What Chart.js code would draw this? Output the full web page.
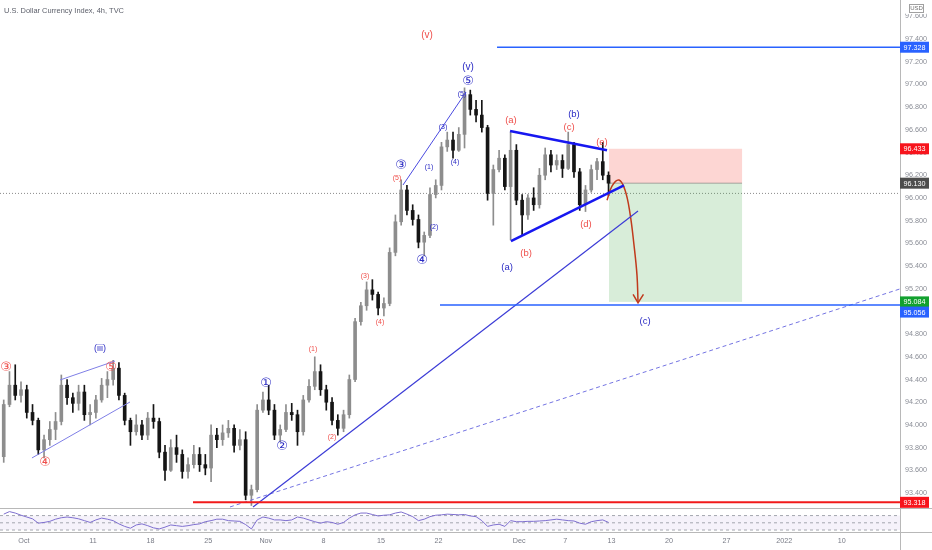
<!DOCTYPE html>
<html lang="en">
<head>
<meta charset="utf-8">
<script src="https://cdn.jsdelivr.net/npm/chart.js@4.4.0/dist/chart.umd.min.js"></script>
<title>U.S. Dollar Currency Index, 4h</title>
<style>
  html, body { margin: 0; padding: 0; background: #fff; }
  #wrap { width: 932px; height: 550px; }
</style>
</head>
<body>
<div id="wrap"><canvas id="dxy"></canvas></div>
<script>
// 12h candles, Sep 29 -> Dec 10 (x in trading days, weekends skipped)
const opens = [93.72,94.18,94.35,94.26,94.31,94.11,94.04,93.78,93.87,93.96,
  94.03,94.35,94.24,94.19,94.29,94.09,94.11,94.22,94.35,94.40,
  94.50,94.26,94.04,93.94,94.00,93.91,94.06,94.03,93.76,93.60,
  93.80,93.74,93.59,93.65,93.74,93.65,93.62,93.91,93.87,93.93,
  93.97,93.82,93.87,93.38,93.43,94.13,94.22,94.13,93.91,93.96,
  94.11,94.09,93.94,94.22,94.34,94.47,94.31,94.20,94.04,93.97,
  94.09,94.40,94.91,95.05,95.19,95.15,95.03,95.07,95.52,95.79,
  96.07,95.89,95.81,95.61,95.67,96.03,96.11,96.45,96.51,96.42,
  96.56,96.91,96.78,96.73,96.62,96.04,96.25,96.35,96.10,96.42,
  95.98,95.85,96.00,95.94,96.20,96.38,96.29,96.33,96.26,96.47,
  96.23,95.94,96.07,96.25,96.32,96.20];
const highs = [94.22,94.47,94.53,94.38,94.35,94.18,94.06,93.91,94.03,94.11,
  94.44,94.40,94.28,94.35,94.35,94.18,94.26,94.41,94.47,94.57,
  94.55,94.28,94.06,94.09,94.04,94.11,94.18,94.06,93.82,93.87,
  93.91,93.78,93.71,93.82,93.80,93.74,94.00,93.97,94.00,94.04,
  94.00,93.96,93.94,93.47,94.18,94.29,94.35,94.18,94.00,94.18,
  94.19,94.13,94.26,94.40,94.60,94.53,94.35,94.24,94.09,94.13,
  94.44,94.94,95.08,95.26,95.28,95.17,95.12,95.56,95.85,96.16,
  96.11,95.94,95.85,95.70,96.09,96.16,96.49,96.58,96.58,96.62,
  96.97,96.95,96.86,96.86,96.64,96.29,96.42,96.38,96.58,96.47,
  96.03,96.03,96.09,96.26,96.44,96.42,96.38,96.38,96.58,96.49,
  96.26,96.11,96.29,96.35,96.49,96.23];
const lows = [93.67,94.16,94.22,94.20,94.06,94.00,93.74,93.71,93.82,93.87,
  94.00,94.18,94.11,94.13,94.04,94.00,94.06,94.20,94.24,94.35,
  94.22,94.00,93.82,93.91,93.87,93.87,93.97,93.71,93.51,93.59,
  93.67,93.53,93.53,93.62,93.59,93.56,93.50,93.80,93.82,93.89,
  93.76,93.78,93.34,93.29,93.41,94.11,94.09,93.87,93.85,93.94,
  94.04,93.82,93.91,94.20,94.31,94.26,94.13,94.00,93.91,93.94,
  94.06,94.38,94.88,95.01,95.10,94.97,94.96,95.05,95.49,95.76,
  95.85,95.76,95.56,95.49,95.65,96.00,96.07,96.41,96.35,96.41,
  96.44,96.73,96.67,96.58,95.98,95.76,96.23,96.07,95.63,95.94,
  95.67,95.81,95.89,95.91,96.16,96.23,96.25,96.18,96.25,96.18,
  95.89,95.88,96.05,96.16,96.16,96.02];
const closes = [94.18,94.35,94.26,94.31,94.11,94.04,93.78,93.87,93.96,94.03,
  94.35,94.24,94.19,94.29,94.09,94.11,94.22,94.35,94.40,94.50,
  94.26,94.04,93.94,94.00,93.91,94.06,94.03,93.76,93.60,93.80,
  93.74,93.59,93.65,93.74,93.65,93.62,93.91,93.87,93.93,93.97,
  93.82,93.87,93.38,93.43,94.13,94.22,94.13,93.91,93.96,94.11,
  94.09,93.94,94.22,94.34,94.47,94.31,94.20,94.04,93.97,94.09,
  94.40,94.91,95.05,95.19,95.15,95.03,95.07,95.52,95.79,96.07,
  95.89,95.81,95.61,95.67,96.03,96.11,96.45,96.51,96.42,96.56,
  96.91,96.78,96.73,96.62,96.04,96.25,96.35,96.10,96.42,95.98,
  95.85,96.00,95.94,96.20,96.38,96.29,96.33,96.26,96.47,96.23,
  95.94,96.07,96.25,96.32,96.20,96.13];
const rsi = [74,81,77,71,66,61,49,51,54,60,
  64,66,64,61,56,51,58,63,60,56,
  47,40,35,44,47,42,36,33,38,44,
  42,40,42,45,47,53,56,60,60,56,
  55,54,45,33,58,66,63,58,58,56,
  58,66,63,58,53,49,53,51,46,51,
  63,72,77,77,73,69,71,72,77,80,
  74,67,56,60,67,71,72,74,73,72,
  73,69,67,56,40,44,46,40,56,53,
  53,54,54,55,56,58,60,58,56,55,
  49,46,53,56,58,51];

const tickDays = [2, 8, 13, 18, 23, 28, 33, 38, 45, 49, 53, 58, 63, 68, 73];
const tickLabels = ['Oct','11','18','25','Nov','8','15','22','Dec','7','13','20','27','2022','10'];
const priceTicks = [93.4,93.6,93.8,94.0,94.2,94.4,94.6,94.8,95.0,95.2,95.4,95.6,95.8,96.0,96.2,96.4,96.6,96.8,97.0,97.2,97.4,97.6];

const UP = '#8d8d8d', DOWN = '#151515';
const RED_T = '#ef4f4b', BLUE_T = '#2b2bc4';
const slot = i => i / 2 + 0.25;

// drawings, in (day, price)
const drawings = [
  { pts: [[43.07, 97.328], [78.1, 97.328]], color: '#2962ff', w: 1.5 },
  { pts: [[38.12, 95.056], [78.1, 95.056]], color: '#2962ff', w: 1.5 },
  { pts: [[16.68, 93.318], [78.1, 93.318]], color: '#f21b1b', w: 2 },
  { pts: [[44.2, 96.59], [52.62, 96.42]], color: '#1717f0', w: 2.5 },
  { pts: [[44.28, 95.62], [54.09, 96.11]], color: '#1717f0', w: 2.5 },
  { pts: [[21.89, 93.277], [55.31, 95.885]], color: '#3c3cd6', w: 1.2 },
  { pts: [[19.89, 93.277], [78.1, 95.20]], color: '#7474e2', w: 1, dash: [4, 3] },
  { pts: [[34.91, 96.114], [40.38, 96.933]], color: '#4a4ae0', w: 1 },
  { pts: [[5.14, 94.396], [9.91, 94.563]], color: '#7f7fe6', w: 1 },
  { pts: [[2.70, 93.709], [11.21, 94.202]], color: '#7f7fe6', w: 1 },
  { pts: [[52.62, 95.98], [53.05, 96.105], [53.66, 96.158], [54.18, 96.07], [54.61, 95.867],
          [54.96, 95.585], [55.22, 95.32], [55.31, 95.083]], color: '#c03a1c', w: 1.5, curve: true },
  { pts: [[54.88, 95.15], [55.31, 95.075], [55.78, 95.15]], color: '#c03a1c', w: 1.5 }
];

const boxes = [
  { d1: 52.79, d2: 64.34, top: 96.433, bottom: 96.13, color: 'rgba(244,67,54,0.22)' },
  { d1: 52.79, d2: 64.34, top: 96.13, bottom: 95.084, color: 'rgba(76,175,80,0.22)' }
];

const waveLabels = [
  { d: 36.99, p: 97.435, t: '(v)', c: RED_T, s: 10 },
  { d: 40.55, p: 97.153, t: '(v)', c: BLUE_T, s: 10 },
  { d: 40.55, p: 97.021, t: '⑤', c: BLUE_T, s: 13 },
  { d: 40.03, p: 96.916, t: '(5)', c: BLUE_T, s: 7 },
  { d: 38.38, p: 96.625, t: '(3)', c: BLUE_T, s: 7 },
  { d: 39.42, p: 96.317, t: '(4)', c: BLUE_T, s: 7 },
  { d: 37.17, p: 96.272, t: '(1)', c: BLUE_T, s: 7 },
  { d: 37.6, p: 95.744, t: '(2)', c: BLUE_T, s: 7 },
  { d: 34.74, p: 96.281, t: '③', c: BLUE_T, s: 13 },
  { d: 34.39, p: 96.175, t: '(5)', c: RED_T, s: 7 },
  { d: 36.56, p: 95.444, t: '④', c: BLUE_T, s: 13 },
  { d: 31.61, p: 95.312, t: '(3)', c: RED_T, s: 7 },
  { d: 32.91, p: 94.907, t: '(4)', c: RED_T, s: 7 },
  { d: 27.1, p: 94.669, t: '(1)', c: RED_T, s: 7 },
  { d: 28.75, p: 93.894, t: '(2)', c: RED_T, s: 7 },
  { d: 23.02, p: 94.36, t: '①', c: BLUE_T, s: 13 },
  { d: 24.41, p: 93.805, t: '②', c: BLUE_T, s: 13 },
  { d: 8.61, p: 94.669, t: '(iii)', c: BLUE_T, s: 9 },
  { d: 0.45, p: 94.501, t: '③', c: RED_T, s: 13 },
  { d: 3.83, p: 93.665, t: '④', c: RED_T, s: 13 },
  { d: 9.56, p: 94.501, t: '⑤', c: RED_T, s: 13 },
  { d: 44.28, p: 96.686, t: '(a)', c: RED_T, s: 9.5 },
  { d: 49.75, p: 96.739, t: '(b)', c: BLUE_T, s: 9.5 },
  { d: 49.32, p: 96.625, t: '(c)', c: RED_T, s: 9.5 },
  { d: 52.18, p: 96.493, t: '(e)', c: RED_T, s: 9.5 },
  { d: 50.79, p: 95.77, t: '(d)', c: RED_T, s: 9.5 },
  { d: 45.59, p: 95.515, t: '(b)', c: RED_T, s: 9.5 },
  { d: 43.94, p: 95.391, t: '(a)', c: BLUE_T, s: 9.5 },
  { d: 55.92, p: 94.916, t: '(c)', c: BLUE_T, s: 9.5 }
];

const priceTags = [
  { p: 97.328, bg: '#2962ff', shift: 0 },
  { p: 96.433, bg: '#f7141c', shift: 0 },
  { p: 96.130, bg: '#4d4d4d', shift: 0 },
  { p: 95.084, bg: '#13a12f', shift: 0 },
  { p: 95.056, bg: '#2962ff', shift: 7 },
  { p: 93.318, bg: '#f7141c', shift: 0 }
];
const prevClose = 96.04;

const FONT = '"Liberation Sans", "DejaVu Sans", sans-serif';
const SYM = '"DejaVu Sans", "Noto Sans CJK SC", sans-serif';

const noPad = s => { s.paddingTop = 0; s.paddingBottom = 0; s.paddingLeft = 0; s.paddingRight = 0; };

const overlay = {
  id: 'overlay',
  beforeDatasetsDraw(chart) {
    const { ctx, scales: { x, y, yr } } = chart;
    ctx.save();
    // RSI pane band and levels
    const t70 = yr.getPixelForValue(70), t50 = yr.getPixelForValue(50), t30 = yr.getPixelForValue(30);
    ctx.fillStyle = 'rgba(126,87,194,0.08)';
    ctx.fillRect(x.left, t70, x.right - x.left, t30 - t70);
    ctx.strokeStyle = '#a3a6ae';
    ctx.lineWidth = 1;
    ctx.setLineDash([3, 3]);
    [t70, t50, t30].forEach(v => {
      ctx.beginPath(); ctx.moveTo(x.left, v); ctx.lineTo(x.right, v); ctx.stroke();
    });
    // previous close dotted line
    const pc = y.getPixelForValue(prevClose);
    ctx.strokeStyle = '#8a8a8a';
    ctx.setLineDash([1, 2]);
    ctx.beginPath(); ctx.moveTo(x.left, pc); ctx.lineTo(x.right, pc); ctx.stroke();
    ctx.setLineDash([]);
    // short position boxes
    boxes.forEach(b => {
      const x1 = x.getPixelForValue(b.d1), x2 = x.getPixelForValue(b.d2);
      const y1 = y.getPixelForValue(b.top), y2 = y.getPixelForValue(b.bottom);
      ctx.fillStyle = b.color;
      ctx.fillRect(x1, y1, x2 - x1, y2 - y1);
    });
    const eY = y.getPixelForValue(boxes[1].top);
    ctx.strokeStyle = 'rgba(120,120,120,0.6)';
    ctx.beginPath();
    ctx.moveTo(x.getPixelForValue(boxes[1].d1), eY);
    ctx.lineTo(x.getPixelForValue(boxes[1].d2), eY);
    ctx.stroke();
    ctx.restore();
  },
  afterDatasetsDraw(chart) {
    const { ctx, scales: { x, y } } = chart;
    ctx.save();
    ctx.textAlign = 'center';
    ctx.textBaseline = 'middle';
    waveLabels.forEach(l => {
      const circled = /[①-⑤]/.test(l.t);
      ctx.font = l.s + 'px ' + (circled ? SYM : FONT);
      ctx.fillStyle = l.c;
      ctx.fillText(l.t, x.getPixelForValue(l.d), y.getPixelForValue(l.p));
    });
    ctx.restore();
  },
  afterDraw(chart) {
    const { ctx, scales: { x, y, yr } } = chart;
    const W = chart.width, H = chart.height;
    ctx.save();
    // pane separators and price axis line
    ctx.strokeStyle = '#b8b8b8';
    ctx.lineWidth = 1;
    [Math.round(yr.top) + 0.5, Math.round(x.top) + 0.5].forEach(v => {
      ctx.beginPath(); ctx.moveTo(0, v); ctx.lineTo(W, v); ctx.stroke();
    });
    const ax = Math.round(x.right) + 0.5;
    ctx.beginPath(); ctx.moveTo(ax, 0); ctx.lineTo(ax, H); ctx.stroke();
    // price tags
    ctx.font = '7.2px ' + FONT;
    ctx.textAlign = 'center';
    ctx.textBaseline = 'middle';
    priceTags.forEach(t => {
      const cy = y.getPixelForValue(t.p) + t.shift;
      ctx.fillStyle = t.bg;
      ctx.fillRect(x.right, cy - 5.5, 29, 11);
      ctx.fillStyle = '#fff';
      ctx.fillText(t.p.toFixed(3), x.right + 14.5, cy + 0.5);
    });
    // USD badge
    ctx.fillStyle = '#fff';
    ctx.fillRect(x.right + 6, 2, 20, 12);
    ctx.strokeStyle = '#a0a0a0';
    ctx.strokeRect(x.right + 9.5, 4.5, 14, 8);
    ctx.fillStyle = '#707070';
    ctx.font = '6px ' + FONT;
    ctx.fillText('USD', x.right + 16.5, 8.8);
    // title
    ctx.textAlign = 'left';
    ctx.fillStyle = '#5d606b';
    ctx.font = '8px ' + FONT;
    ctx.fillText('U.S. Dollar Currency Index, 4h, TVC', 4, 11, 120);
    ctx.restore();
  }
};

const candleColor = ctx => closes[ctx.dataIndex] >= opens[ctx.dataIndex] ? UP : DOWN;

const lineSets = drawings.map(g => ({
  type: 'line',
  data: g.pts.map(([d, p]) => ({ x: d, y: p })),
  borderColor: g.color,
  borderWidth: g.w,
  borderDash: g.dash || [],
  pointRadius: 0,
  tension: g.curve ? 0.4 : 0,
  fill: false,
  yAxisID: 'y',
  order: 0
}));

new Chart(document.getElementById('dxy'), {
  type: 'bar',
  data: {
    datasets: [
      ...lineSets,
      {
        label: 'wick',
        data: opens.map((o, i) => ({ x: slot(i), y: [lows[i], highs[i]] })),
        backgroundColor: candleColor,
        barThickness: 1,
        grouped: false,
        yAxisID: 'y',
        order: 10
      },
      {
        label: 'body',
        data: opens.map((o, i) => ({ x: slot(i), y: [o, closes[i]] })),
        backgroundColor: candleColor,
        barThickness: 3,
        minBarLength: 1,
        grouped: false,
        yAxisID: 'y',
        order: 9
      },
      {
        type: 'line',
        label: 'RSI',
        data: rsi.map((v, i) => ({ x: slot(i), y: v })),
        borderColor: '#7e6fcf',
        borderWidth: 1,
        pointRadius: 0,
        tension: 0,
        yAxisID: 'yr',
        order: 5
      }
    ]
  },
  options: {
    responsive: true,
    maintainAspectRatio: false,
    animation: false,
    events: [],
    layout: { padding: 0 },
    plugins: { legend: { display: false }, tooltip: { enabled: false } },
    scales: {
      x: {
        type: 'linear',
        min: -0.073,
        max: 78.05,
        offset: false,
        grid: { display: false, drawTicks: false },
        border: { display: false },
        afterBuildTicks: s => { s.ticks = tickDays.map(v => ({ value: v })); },
        afterFit: s => { s.height = 18; noPad(s); },
        ticks: {
          autoSkip: false,
          maxRotation: 0,
          padding: 5,
          color: '#787b86',
          font: { size: 7.2, family: FONT },
          callback: v => tickLabels[tickDays.indexOf(v)]
        }
      },
      y: {
        position: 'right',
        stack: 'panes',
        stackWeight: 508,
        min: 93.268,
        max: 97.744,
        grid: { display: false, drawTicks: false },
        border: { display: false },
        afterBuildTicks: s => { s.ticks = priceTicks.map(v => ({ value: v })); },
        afterFit: s => { s.width = 32; noPad(s); },
        ticks: {
          autoSkip: false,
          padding: 5,
          color: '#8a8d96',
          font: { size: 7.2, family: FONT },
          callback: v => v.toFixed(3)
        }
      },
      yr: {
        type: 'linear',
        position: 'right',
        stack: 'panes',
        stackWeight: 24,
        min: 24.5,
        max: 91,
        grid: { display: false, drawTicks: false },
        border: { display: false },
        ticks: { display: false },
        afterFit: s => { s.width = 32; noPad(s); }
      }
    }
  },
  plugins: [overlay]
});
</script>
</body>
</html>
